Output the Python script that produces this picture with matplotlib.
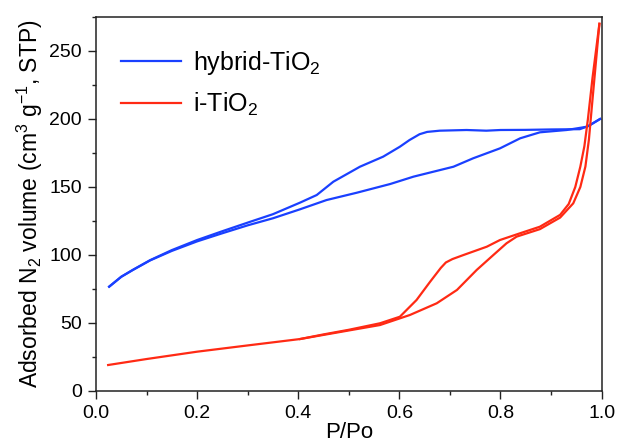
import matplotlib
matplotlib.use('Agg')
import matplotlib.pyplot as plt
from matplotlib.ticker import MultipleLocator

plt.rcParams['font.family'] = ['Liberation Sans', 'DejaVu Sans']
plt.rcParams['mathtext.fontset'] = 'custom'
plt.rcParams['mathtext.rm'] = 'Liberation Sans'
plt.rcParams['mathtext.it'] = 'Liberation Sans:italic'

# hybrid-TiO2 isotherm
hyb_ads_x = [0.026, 0.05, 0.073, 0.107, 0.15, 0.2, 0.25, 0.3, 0.35, 0.4036, 0.456, 0.516,
             0.582, 0.628, 0.707, 0.746, 0.799, 0.839, 0.878, 0.931, 0.971, 0.997]
hyb_ads_y = [76.7, 84, 89, 96, 103, 110, 116, 121.8, 127, 133.6, 140.4, 145.8,
             152.2, 157.6, 164.9, 171.1, 178.4, 185.8, 190.2, 191.9, 194.3, 200]
hyb_des_x = [0.997, 0.975, 0.957, 0.9, 0.85, 0.8, 0.772, 0.733, 0.68, 0.655, 0.64, 0.62, 0.601,
             0.568, 0.522, 0.4695, 0.4366, 0.4036, 0.35, 0.3, 0.25, 0.2, 0.15, 0.107, 0.073,
             0.05, 0.026]
hyb_des_y = [200, 195, 192.5, 192.3, 192, 191.9, 191.4, 191.9, 191.4, 190.5, 188.8, 184.5, 179.6,
             172.3, 164.9, 153.9, 144.1, 138.5, 130, 123.8, 117.5, 111, 103.6, 96.2, 89.1,
             84, 76.7]

# i-TiO2 isotherm
i_ads_x = [0.024, 0.1, 0.2, 0.3, 0.4036, 0.5, 0.5618, 0.621, 0.674, 0.714, 0.753, 0.786,
           0.812, 0.832, 0.878, 0.918, 0.944, 0.958, 0.968, 0.975, 0.981, 0.9957]
i_ads_y = [19.1, 23.5, 28.9, 33.5, 38.2, 44.5, 48.5, 55.9, 64.5, 74.3, 89, 100,
           108.6, 113.5, 119, 127.5, 138, 150, 165, 185, 210, 270]
i_des_x = [0.9957, 0.982, 0.973, 0.966, 0.958, 0.948, 0.935, 0.918, 0.878, 0.839, 0.799,
           0.773, 0.727, 0.705, 0.692, 0.682, 0.661, 0.634, 0.601, 0.5618, 0.5, 0.45, 0.4036]
i_des_y = [270, 230, 200, 180, 165, 150, 137.5, 129.5, 120.8, 116, 111,
           106.1, 100, 97, 94.5, 90.5, 80.4, 66.9, 54.6, 49.8, 45, 41.6, 38.2]

blue = '#1a40ff'
red = '#ff2a14'

fig = plt.figure(figsize=(6.17, 4.47), dpi=100)
ax = fig.add_axes([0.1556, 0.1253, 0.8194, 0.8367])

ax.plot(hyb_ads_x, hyb_ads_y, color=blue, lw=1.6, label=r'hybrid-TiO$\mathregular{_2}$')
ax.plot(hyb_des_x, hyb_des_y, color=blue, lw=1.6)
ax.plot(i_ads_x, i_ads_y, color=red, lw=1.6, label=r'i-TiO$\mathregular{_2}$')
ax.plot(i_des_x, i_des_y, color=red, lw=1.6)

ax.set_xlim(0, 1.0)
ax.set_ylim(0, 275)
ax.xaxis.set_major_locator(MultipleLocator(0.2))
ax.xaxis.set_minor_locator(MultipleLocator(0.1))
ax.yaxis.set_major_locator(MultipleLocator(50))
ax.yaxis.set_minor_locator(MultipleLocator(25))
ax.tick_params(which='major', direction='out', length=6, width=1, labelsize=14, pad=4,
               colors='#222222', labelcolor='black')
ax.tick_params(which='minor', direction='out', length=3, width=1, colors='#222222')
for s in ax.spines.values():
    s.set_linewidth(1.1)
    s.set_color('#222222')

ax.set_xlabel('P/Po', fontsize=16, labelpad=0)
ax.set_ylabel(r'Adsorbed N$\mathregular{_2}$ volume (cm$\mathregular{^3}$ g$\mathregular{^{-1}}$, STP)',
              fontsize=16.5, labelpad=3)

ax.legend(loc='upper left', bbox_to_anchor=(0.049, 0.915), frameon=False, fontsize=18,
          handlelength=2.4, handletextpad=0.5, labelspacing=0.55, borderpad=0, borderaxespad=0)

fig.savefig('out.png', dpi=100)
